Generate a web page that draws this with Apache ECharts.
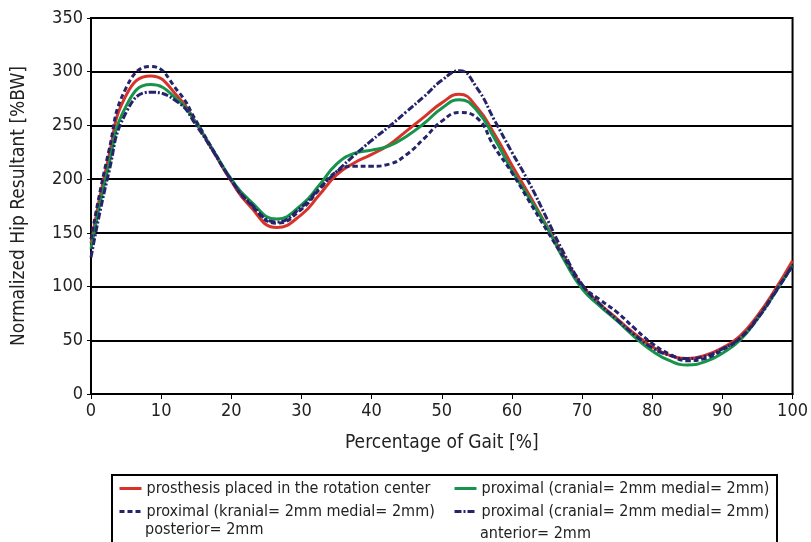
<!DOCTYPE html>
<html><head><meta charset="utf-8">
<script src="https://cdn.jsdelivr.net/npm/echarts@6/dist/echarts.min.js"></script>
<style>html,body{margin:0;padding:0;background:#fff}#c{width:811px;height:542px}</style>
</head><body><div id="c"></div>
<script>
const gait = [0,2.5,5,8.5,12.5,15,17.5,20,22.5,26.5,30,32.5,35,37.5,40,42.5,45,47.5,50,52.5,55,57.5,60,62.5,65,67.5,70,72.5,75,77.5,80,82.5,85,87.5,90,92.5,95,97.5,100];
const center    = [140,220,278,296,276,252,225,198,176,155,167,185,204,215,223,232,245,258,271,279,267,242,213,185,156,127,101,84,70,56,44,36,33,36,43,54,73,97,124];
const cranial   = [135,212,268,288,273,252,226,200,181,163,176,194,214,224,227,231,240,252,266,274,264,238,208,182,155,124,98,82,68,53,40,31,27,30,38,50,70,94,120];
const posterior = [144,225,285,305,281,254,226,199,178,159,172,190,207,212,212,214,223,238,254,262,257,230,206,179,152,126,101,88,76,61,47,37,31,33,41,52,71,95,119];
const anterior  = [127,205,262,281,271,250,225,199,179,160,174,191,207,222,236,249,263,277,292,301,285,255,225,196,163,130,102,84,69,55,43,36,33,35,42,52,70,94,120];
const names = ['prosthesis placed in the rotation center','proximal (cranial= 2mm medial= 2mm)','proximal (kranial= 2mm medial= 2mm) posterior= 2mm','proximal (cranial= 2mm medial= 2mm) anterior= 2mm'];
const legendLine1 = ['prosthesis placed in the rotation center','proximal (cranial= 2mm medial= 2mm)','proximal (kranial= 2mm medial= 2mm)','proximal (cranial= 2mm medial= 2mm)'];
const legendLine2 = ['posterior= 2mm','anterior= 2mm'];
const xTicks = [0,10,20,30,40,50,60,70,80,90,100];
const yTicks = [0,50,100,150,200,250,300,350];

const FONT = "'Liberation Sans Narrow','DejaVu Sans Condensed',sans-serif";
const pair = arr => gait.map((g,i)=>[g,arr[i]]);
const chart = echarts.init(document.getElementById('c'));
const mk = (name, arr, color, type) => ({
  name, type:'line', data: pair(arr), smooth:0.5, symbol:'none',
  lineStyle:{color, width:3, type}, itemStyle:{color}
});
const leg = (i, left, top) => ({
  data:[names[i]], orient:'vertical', left, top, padding:0, itemWidth:22, itemHeight:3,
  itemStyle:{opacity:0},
  lineStyle:{width:3},
  formatter: () => legendLine1[i],
  textStyle:{fontSize:16, color:'#222', fontFamily:FONT, lineHeight:19}
});
chart.setOption({
  animation:false,
  textStyle:{fontFamily:FONT},
  grid:{left:91, right:14, top:18, bottom:148, show:true, borderColor:'#000', borderWidth:2, backgroundColor:'transparent'},
  xAxis:{type:'value', min:0, max:100, interval:10,
    name:'Percentage of Gait [%]', nameLocation:'middle', nameGap:40,
    nameTextStyle:{fontSize:19, color:'#222', fontFamily:FONT},
    axisLine:{show:true, lineStyle:{color:'#000', width:2}},
    axisTick:{show:true, length:5, lineStyle:{color:'#000'}},
    axisLabel:{fontSize:18, color:'#222', margin:8, fontFamily:FONT},
    splitLine:{show:false}},
  yAxis:{type:'value', min:0, max:350, interval:50,
    name:'Normalized Hip Resultant [%BW]', nameLocation:'middle', nameGap:62,
    nameTextStyle:{fontSize:19, color:'#222', fontFamily:FONT},
    axisLine:{show:true, lineStyle:{color:'#000', width:2}},
    axisTick:{show:true, length:4, lineStyle:{color:'#000'}},
    axisLabel:{fontSize:18, color:'#222', margin:8, fontFamily:FONT},
    splitLine:{show:true, lineStyle:{color:'#000', width:2}}},
  legend:[
    leg(0, 118, 479),
    leg(1, 453, 479),
    leg(2, 118, 502),
    leg(3, 453, 502)
  ],
  graphic:[
    {type:'rect', shape:{x:112, y:475, width:665, height:80}, style:{fill:'none', stroke:'#000', lineWidth:2}, silent:true},
    {type:'text', x:145, y:530, style:{text:legendLine2[0], fontSize:16, fontFamily:FONT, fill:'#222', textVerticalAlign:'middle', verticalAlign:'middle'}, silent:true},
    {type:'text', x:480, y:534, style:{text:legendLine2[1], fontSize:16, fontFamily:FONT, fill:'#222', textVerticalAlign:'middle', verticalAlign:'middle'}, silent:true}
  ],
  series:[
    mk(names[0], center, '#d7332a', 'solid'),
    mk(names[1], cranial, '#17944a', 'solid'),
    mk(names[2], posterior, '#25246b', [5,3]),
    mk(names[3], anterior, '#25246b', [7,2,2,2])
  ]
});
</script></body></html>
